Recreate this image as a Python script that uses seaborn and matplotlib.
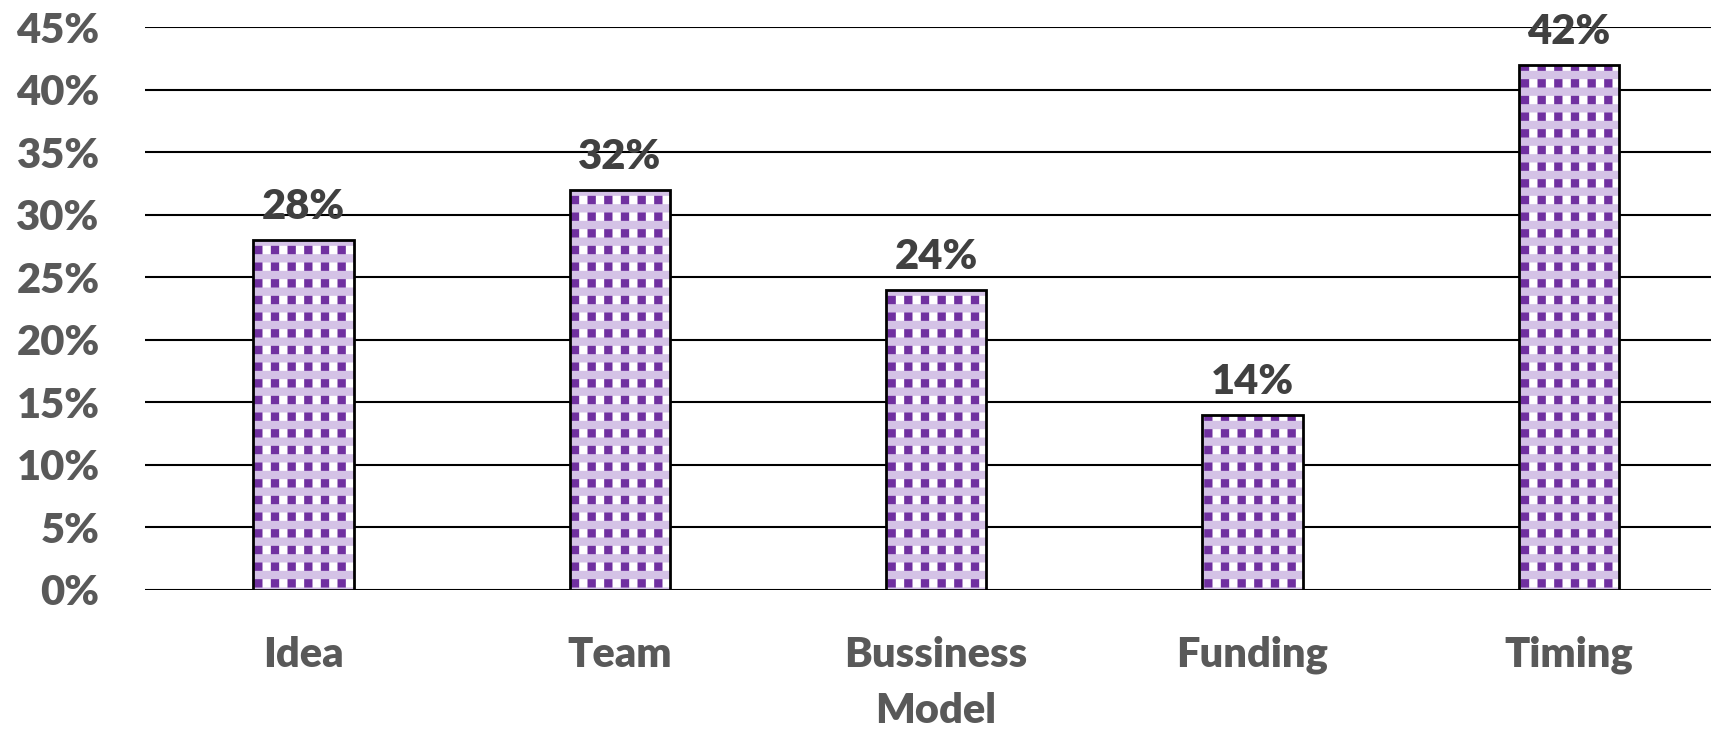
import matplotlib
matplotlib.use("Agg")
import matplotlib.pyplot as plt
import seaborn as sns
import pandas as pd

categories = ["Idea", "Team", "Bussiness\nModel", "Funding", "Timing"]
values = [28, 32, 24, 14, 42]
yticks = [0, 5, 10, 15, 20, 25, 30, 35, 40, 45]
ytick_labels = [f"{t}%" for t in yticks]

sns.set_theme(style="white")
plt.rcParams['font.family'] = ['Lato', 'DejaVu Sans']
plt.rcParams['hatch.linewidth'] = 6

df = pd.DataFrame({"cat": categories, "val": values})

fig = plt.figure(figsize=(17.11, 7.31), dpi=100)
ax = fig.add_axes([0.085, 0.193, 0.915, 0.77])

BW = 0.317
# layer 1: vertical purple stripes
sns.barplot(data=df, x="cat", y="val", ax=ax, width=BW, color="white", zorder=2)
for p in ax.patches:
    p.set_facecolor("white")
    p.set_edgecolor("#7030A0")
    p.set_hatch("|")
    p.set_linewidth(0)
n1 = len(ax.patches)
# layer 2: light purple horizontal bands
sns.barplot(data=df, x="cat", y="val", ax=ax, width=BW, color="white", zorder=3)
for p in ax.patches[n1:]:
    p.set_facecolor("none")
    p.set_edgecolor("#D4C2E6")
    p.set_hatch("-")
    p.set_linewidth(0)
# layer 3: black outline
sns.barplot(data=df, x="cat", y="val", ax=ax, width=BW,
            fill=False, edgecolor="black", linewidth=2, zorder=4)

ax.set_ylim(0, 45)
ax.set_xlim(-0.5, 4.45)
ax.set_yticks(yticks)
ax.set_yticklabels(ytick_labels)
ax.yaxis.grid(True, color="black", linewidth=1.5, zorder=0)
ax.set_axisbelow(True)
for s in ax.spines.values():
    s.set_visible(False)
ax.set_xlabel("")
ax.set_ylabel("")
ax.tick_params(axis="y", length=0, pad=33, labelsize=30, labelcolor="#595959")
ax.tick_params(axis="x", length=0, pad=33, labelsize=30, labelcolor="#595959")
for lab in ax.get_yticklabels():
    lab.set_fontweight("heavy")
for lab in ax.get_xticklabels():
    lab.set_fontweight("heavy")
    lab.set_linespacing(1.6)
    lab.set_va("top")

for i, v in enumerate(values):
    ax.text(i, v + 1.1, f"{v}%", ha="center", va="bottom", fontsize=30,
            fontweight="heavy", color="#404040", zorder=5)

fig.savefig("out.png", dpi=100)
